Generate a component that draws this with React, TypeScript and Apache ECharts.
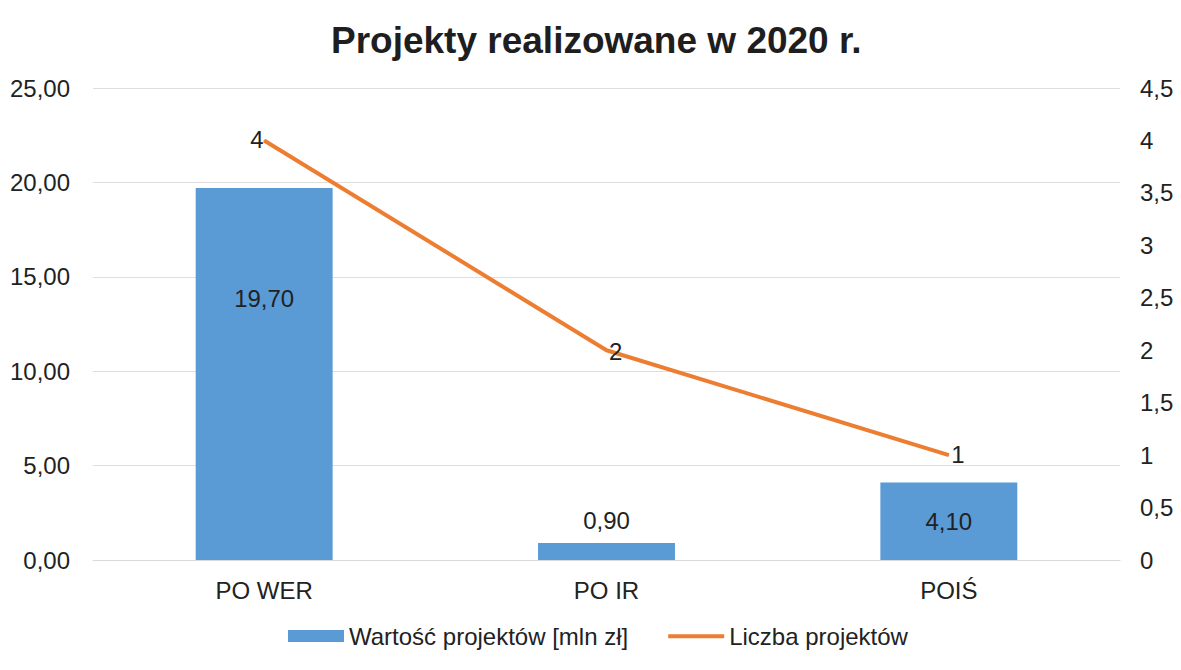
import React, { useEffect, useRef } from "react";
import * as echarts from "echarts";

const categories = ["PO WER", "PO IR", "POIŚ"];
const valueSeriesName = "Wartość projektów [mln zł]";
const countSeriesName = "Liczba projektów";
const projectValues = [19.7, 0.9, 4.1];
const projectCounts = [4, 2, 1];
const titleText = "Projekty realizowane w 2020 r.";

const fmt2 = (v: number) => v.toFixed(2).replace(".", ",");
const fmtR = (v: number) => String(v).replace(".", ",");

export default function App() {
  const ref = useRef<HTMLDivElement>(null);
  useEffect(() => {
    if (!ref.current) return;
    const chart = echarts.init(ref.current, null, { renderer: "svg" });
    const textColor = "#222222";
    const font = "'Liberation Sans', Arial, sans-serif";
    const barLabelCfg = [
      { position: "insideTop", distance: 98 },
      { position: "top", distance: 11 },
      { position: "inside" },
    ];
    const lineLabelCfg = [
      { position: "left", distance: 0, offset: [0, -1] },
      { position: "right", distance: 2, offset: [0, 1] },
      { position: "right", distance: 2, offset: [0, -1] },
    ];
    const lineIcon =
      "path://M0,0 L0.01,0 L0.01,0.01 Z M0,4 L60,4 L60,8.5 L0,8.5 Z M0,12 L0.01,12 L0.01,12.01 Z";
    chart.setOption({
      animation: false,
      backgroundColor: "#ffffff",
      textStyle: { fontFamily: font },
      title: {
        text: titleText,
        left: 331,
        top: 22,
        padding: 0,
        textStyle: { fontSize: 37, fontWeight: "bold", color: "#1e1e1e", fontFamily: font },
      },
      legend: {
        left: 288,
        top: 624,
        padding: 0,
        itemGap: 40,
        itemWidth: 56,
        itemHeight: 12,
        textStyle: { fontSize: 24, color: textColor, fontFamily: font },
        data: [
          { name: valueSeriesName, icon: "rect" },
          { name: countSeriesName, icon: lineIcon },
        ],
      },
      grid: { left: 93, right: 61, top: 88, bottom: 110, containLabel: false },
      xAxis: {
        type: "category",
        data: categories,
        axisLine: { show: true, lineStyle: { color: "#d9d9d9", width: 1 } },
        axisTick: { show: false },
        axisLabel: { fontSize: 24, color: textColor, margin: 18, fontFamily: font },
      },
      yAxis: [
        {
          type: "value",
          min: 0,
          max: 25,
          interval: 5,
          axisLine: { show: false },
          axisTick: { show: false },
          splitLine: { show: true, lineStyle: { color: "#dedede", width: 1 } },
          axisLabel: { fontSize: 24, color: textColor, margin: 23, formatter: fmt2, fontFamily: font },
        },
        {
          type: "value",
          min: 0,
          max: 4.5,
          interval: 0.5,
          axisLine: { show: false },
          axisTick: { show: false },
          splitLine: { show: false },
          axisLabel: { fontSize: 24, color: textColor, margin: 20, formatter: fmtR, fontFamily: font },
        },
      ],
      series: [
        {
          name: valueSeriesName,
          type: "bar",
          yAxisIndex: 0,
          barWidth: "40%",
          itemStyle: { color: "#5b9bd5" },
          label: {
            show: true,
            fontSize: 24,
            color: textColor,
            fontFamily: font,
            formatter: (p: any) => fmt2(p.value),
          },
          data: projectValues.map((v, i) => ({ value: v, label: barLabelCfg[i] })),
        },
        {
          name: countSeriesName,
          type: "line",
          yAxisIndex: 1,
          symbol: "circle",
          symbolSize: 1,
          showSymbol: true,
          lineStyle: { color: "#ed7d31", width: 4 },
          itemStyle: { color: "#ed7d31" },
          label: {
            show: true,
            fontSize: 24,
            color: textColor,
            fontFamily: font,
            formatter: (p: any) => fmtR(p.value),
          },
          data: projectCounts.map((v, i) => ({ value: v, label: lineLabelCfg[i] })),
        },
      ],
    });
    return () => chart.dispose();
  }, []);
  return (
    <div
      ref={ref}
      style={{ position: "absolute", left: 0, top: 0, width: 1181, height: 670 }}
    />
  );
}
